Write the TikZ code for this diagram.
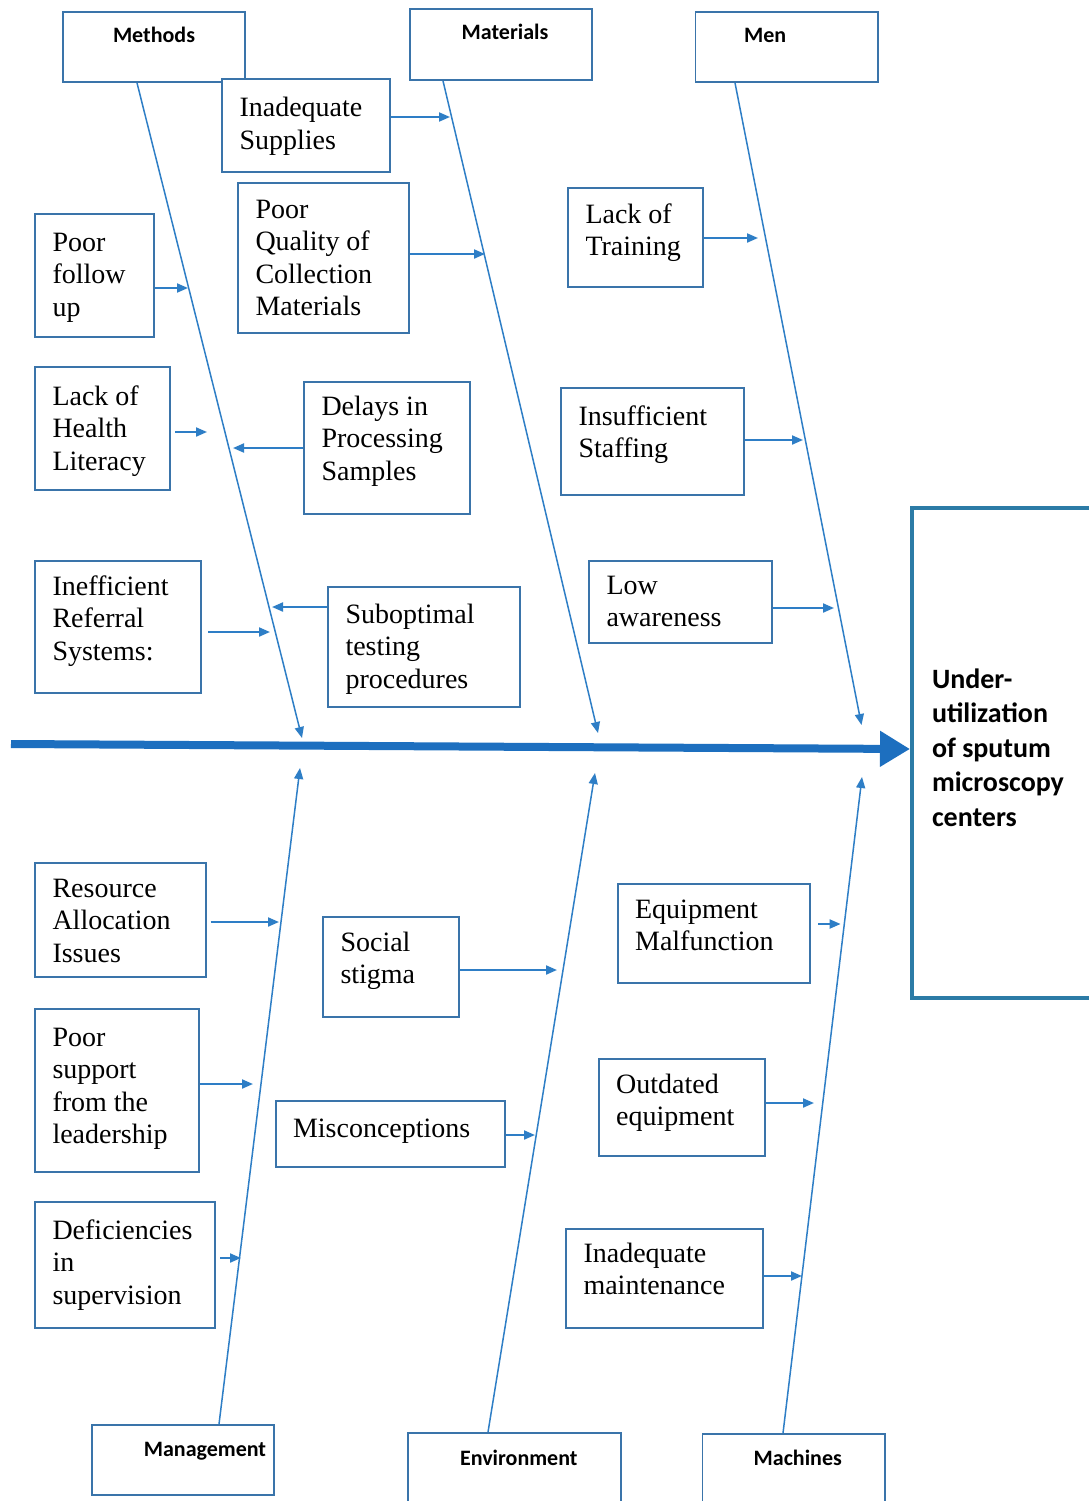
\documentclass[tikz,border=0pt]{standalone}
\usepackage{fontspec}
\IfFontExistsTF{LiberationSerif-Regular.ttf}
  {\newfontfamily\libserif{LiberationSerif-Regular.ttf}}
  {\newfontfamily\libserif{DejaVu Serif}[FakeStretch=0.82]}
\newfontfamily\carlito{Carlito}
\usetikzlibrary{arrows.meta}
\definecolor{boxc}{HTML}{3A74AA}
\definecolor{linec}{HTML}{2E7EC6}
\definecolor{spinec}{HTML}{1D6FBF}
\definecolor{effc}{HTML}{2C7BA6}
\newcommand\causefont{\libserif\fontsize{28}{32.5}\selectfont}
\newcommand\hdrfont{\carlito\bfseries\fontsize{22}{26}\selectfont}
\newcommand\efffont{\carlito\bfseries\fontsize{28}{34.5}\selectfont}
% cause box: name, x1, y1, x2, y2, first baseline, text
\newcommand\cbx[7]{%
  \node[cause] (#1) at ({(#2+#4)/2},{(#3+#5)/2})
  {\parbox[c][\dimexpr#5pt-#3pt\relax][t]{\dimexpr#4pt-#2pt\relax}{\causefont\vspace*{\dimexpr#6pt-#3pt-20pt\relax}\raggedright\leftskip=17.5pt\relax\rule{0pt}{20pt}#7}};}
% header box: name, x1, y1, x2, y2, baseline, 2*offset, text
\newcommand\hbx[8]{%
  \node[hdr] (#1) at ({(#2+#4)/2},{(#3+#5)/2})
  {\parbox[c][\dimexpr#5pt-#3pt\relax][t]{\dimexpr#4pt-#2pt\relax}{\hdrfont\vspace*{\dimexpr#6pt-#3pt-16pt\relax}\centering\hspace*{#7pt}\rule{0pt}{16pt}#8}};}
\tikzset{
  cause/.style={draw=boxc, line width=2pt, inner sep=0pt, fill=white},
  hdr/.style={draw=boxc, line width=1.8pt, inner sep=0pt, fill=white},
  effbox/.style={draw=effc, line width=4pt, inner sep=0pt, fill=white},
  bone/.style={draw=linec, line width=1.5pt, -{Triangle[length=11pt,width=9pt]}},
  sarrow/.style={draw=linec, line width=2pt, -{Triangle[length=11pt,width=9pt]}},
  spine/.style={draw=spinec, line width=8pt, -{Triangle[length=30pt,width=34pt]}}
}
\begin{document}
\begin{tikzpicture}[x=1pt,y=-1pt]
\useasboundingbox (0,0) rectangle (1088,1501);
\fill[white] (0,0) rectangle (1088,1501);

% headers
\hbx{meth}{63}{12}{245}{82}{43}{0}{Methods}
\hbx{mat}{410}{9}{592}{80}{40}{8}{Materials}
\hbx{men}{695.5}{12}{878}{82}{43}{-43}{Men}
\hbx{mgt}{92}{1425}{274}{1495}{1456}{44}{Management}
\hbx{env}{407.6}{1433}{621}{1512}{1465}{9}{Environment}
\hbx{mac}{702.5}{1434}{885}{1512}{1465}{8}{Machines}

% effect
\node[effbox] (eff) at ({(912+1110)/2},{(508+998)/2})
  {\parbox[c][490pt][t]{198pt}{\efffont\vspace*{\dimexpr688pt-508pt-24pt\relax}\raggedright\leftskip=20pt\relax\rule{0pt}{24pt}Under-\\utilization\\of sputum\\microscopy\\centers}};

% bone coordinates
\coordinate (mb1) at (137,82);   \coordinate (mb2) at (302,738);
\coordinate (tb1) at (443,81);   \coordinate (tb2) at (598,733);
\coordinate (nb1) at (735,83);   \coordinate (nb2) at (861.5,725);
\coordinate (gb1) at (219,1422); \coordinate (gb2) at (300,768);
\coordinate (vb1) at (488,1433); \coordinate (vb2) at (595,773);
\coordinate (cb1) at (783,1434); \coordinate (cb2) at (862,777);

\draw[bone] (meth.south -| mb1) -- (mb2);
\draw[bone] (mat.south -| tb1) -- (tb2);
\draw[bone] (men.south -| nb1) -- (nb2);
\draw[bone] (mgt.north -| gb1) -- (gb2);
\draw[bone] (env.north -| vb1) -- (vb2);
\draw[bone] (mac.north -| cb1) -- (cb2);

% spine
\coordinate (sp0) at (11,744);
\coordinate (sp1) at (0,749);
\draw[spine] (sp0) -- (eff.west |- sp1);

% causes
\cbx{sup}{222}{79}{390}{172}{117}{Inadequate\\Supplies}
\cbx{pqc}{238}{183}{409}{333}{218}{Poor\\Quality of\\Collection\\Materials}
\cbx{pfu}{35}{214}{154}{337}{251}{Poor\\follow\\up}
\cbx{lot}{568}{188}{703}{287}{223}{Lack of\\Training}
\cbx{lhl}{35}{367}{170}{490}{405}{Lack of\\Health\\Literacy}
\cbx{dps}{304}{382}{470}{514}{415}{Delays in\\Processing\\Samples}
\cbx{ins}{561}{388}{744}{495}{425}{Insufficient\\Staffing}
\cbx{irs}{35}{561}{201}{693}{595}{Inefficient\\Referral\\Systems:}
\cbx{stp}{328}{587}{520}{707}{623}{Suboptimal\\testing\\procedures}
\cbx{low}{589}{561}{772}{643}{594}{Low\\awareness}
\cbx{rai}{35}{863}{205.5}{977}{897}{Resource\\Allocation\\Issues}
\cbx{ssg}{323}{917}{458.5}{1017}{951}{Social\\stigma}
\cbx{eqm}{617.6}{884}{810}{983}{918}{Equipment\\Malfunction}
\cbx{psl}{35}{1009}{199}{1172}{1046}{Poor\\support\\from the\\leadership}
\cbx{mis}{275.5}{1101}{505}{1167}{1137}{Misconceptions}
\cbx{oeq}{598.7}{1059}{765}{1156}{1093}{Outdated\\equipment}
\cbx{dis}{35}{1202}{215}{1328}{1239}{Deficiencies\\in\\supervision}
\cbx{inm}{566}{1229}{763}{1328}{1262}{Inadequate\\maintenance}

% arrow end points on/near bones
\coordinate (a1) at (450,117);
\coordinate (a2) at (485,254);
\coordinate (a3) at (188,288);
\coordinate (a4) at (758,238);
\coordinate (a5) at (207,432);
\coordinate (a6) at (233,448);
\coordinate (a7) at (803,440);
\coordinate (a8) at (270,632);
\coordinate (a9) at (272,607);
\coordinate (a10) at (834,608);
\coordinate (a11) at (279,922);
\coordinate (a12) at (557,970);
\coordinate (a13) at (840.6,924);
\coordinate (a14) at (253,1084);
\coordinate (a15) at (535,1135);
\coordinate (a16) at (814,1103);
\coordinate (a17) at (241,1258);
\coordinate (a18) at (802,1276);

\draw[sarrow] (sup.east |- a1) -- (a1);
\draw[sarrow] (pqc.east |- a2) -- (a2);
\draw[sarrow] (pfu.east |- a3) -- (a3);
\draw[sarrow] (lot.east |- a4) -- (a4);
\draw[sarrow, shorten <=4pt] (lhl.east |- a5) -- (a5);
\draw[sarrow] (dps.west |- a6) -- (a6);
\draw[sarrow] (ins.east |- a7) -- (a7);
\draw[sarrow, shorten <=6pt] (irs.east |- a8) -- (a8);
\draw[sarrow] (stp.west |- a9) -- (a9);
\draw[sarrow] (low.east |- a10) -- (a10);
\draw[sarrow, shorten <=4pt] (rai.east |- a11) -- (a11);
\draw[sarrow] (ssg.east |- a12) -- (a12);
\draw[sarrow, shorten <=7pt] (eqm.east |- a13) -- (a13);
\draw[sarrow] (psl.east |- a14) -- (a14);
\draw[sarrow] (mis.east |- a15) -- (a15);
\draw[sarrow] (oeq.east |- a16) -- (a16);
\draw[sarrow, shorten <=4pt] (dis.east |- a17) -- (a17);
\draw[sarrow] (inm.east |- a18) -- (a18);
\end{tikzpicture}
\end{document}
